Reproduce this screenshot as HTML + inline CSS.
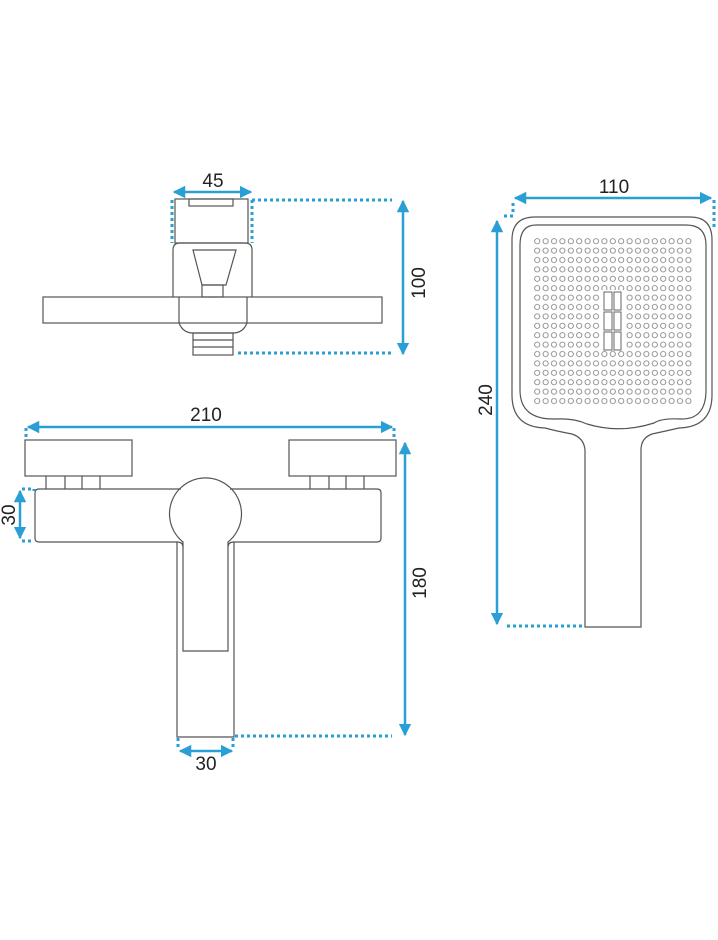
<!DOCTYPE html>
<html><head><style>html,body{margin:0;padding:0;background:#fff}svg{display:block}</style></head><body>
<svg width="718" height="940" viewBox="0 0 718 940" xmlns="http://www.w3.org/2000/svg" font-family="Liberation Sans, sans-serif">
<defs>
<marker id="a" viewBox="0 0 10 10" refX="9" refY="5" markerWidth="5" markerHeight="5" orient="auto-start-reverse"><path d="M0,0L10,5L0,10z" fill="#2a9fd6"/></marker>
<pattern id="dots" x="533" y="236.5" width="8.4" height="9.4" patternUnits="userSpaceOnUse"><circle cx="4.2" cy="4.7" r="2.6" fill="none" stroke="#777" stroke-width="0.8"/></pattern>
</defs>
<g fill="none" stroke="#555" stroke-width="1.2">
<rect x="175" y="199" width="73" height="44"/>
<rect x="189" y="199" width="44" height="7"/>
<path d="M173,297V250Q173,243 180,243H245Q252,243 252,250V297"/>
<path d="M193,250H236L226,285H202Z"/>
<rect x="202" y="285" width="21" height="12"/>
<rect x="43" y="297" width="339" height="26"/>
<path d="M179,297V323Q183,333 193,333H233Q243,333 247,323V297"/>
<rect x="193" y="333" width="40" height="22"/>
<path d="M193,340H233M193,347H233"/>
<rect x="25" y="440" width="107" height="36"/>
<rect x="289" y="440" width="107" height="36"/>
<path d="M46,476V489M65,476V489M82,476V489M100,476V489M310,476V489M329,476V489M346,476V489M364,476V489"/>
<path d="M181,489H39Q35,489 35,493V538Q35,542 39,542H177V737H234V542H377Q381,542 381,538V493Q381,489 377,489H230"/>
<path d="M183,542A36,36 0 1 1 228,542V651H183Z"/>
<path d="M177,542Q183,542 183,547M234,542Q228,542 228,547"/>
<path d="M585,627V450Q584,438 572,434Q556,431 545,428Q512,427 512,395V240Q512,217 535,217H690Q712,217 712,240V395Q712,427 679,428Q666,431 652,434Q641,438 641,450V627Z"/>
<path d="M536,225H686Q706,225 706,245V390Q706,420 680,419Q662,418 654,423Q620,434 587,424Q574,418 556,419Q520,420 520,390V245Q520,225 536,225Z"/>
</g>
<rect x="533" y="236.5" width="159" height="169" fill="url(#dots)"/>
<rect x="600" y="290" width="25" height="60" fill="#fff"/>
<g fill="none" stroke="#666" stroke-width="1">
<rect x="604" y="292" width="8" height="18"/><rect x="614" y="292" width="7" height="18"/>
<rect x="604" y="312" width="8" height="18"/><rect x="614" y="312" width="7" height="18"/>
<rect x="604" y="332" width="8" height="18"/><rect x="614" y="332" width="7" height="18"/>
</g>
<g stroke="#2a9fd6" stroke-width="2.5" fill="none">
<line x1="174" y1="192" x2="251" y2="192" marker-start="url(#a)" marker-end="url(#a)"/>
<line x1="403" y1="201" x2="403" y2="354" marker-start="url(#a)" marker-end="url(#a)"/>
<line x1="28" y1="427" x2="392" y2="427" marker-start="url(#a)" marker-end="url(#a)"/>
<line x1="20" y1="491" x2="20" y2="538" marker-start="url(#a)" marker-end="url(#a)"/>
<line x1="405" y1="443" x2="405" y2="735" marker-start="url(#a)" marker-end="url(#a)"/>
<line x1="180" y1="751" x2="232" y2="751" marker-start="url(#a)" marker-end="url(#a)"/>
<line x1="515" y1="198" x2="711" y2="198" marker-start="url(#a)" marker-end="url(#a)"/>
<line x1="497" y1="221" x2="497" y2="624" marker-start="url(#a)" marker-end="url(#a)"/>
</g>
<g stroke="#2a9fd6" stroke-width="3" stroke-dasharray="3,3" fill="none">
<path d="M172,200V243M252,200V243M252,200H392M238,353H392"/>
<path d="M26,428V438M394,428V438M22,489H34M22,541H34M34,489V491M235,736H392M178,738V748M233,738V748"/>
<path d="M513,203V213M504,216H514M714,200V228M507,626H583"/>
</g>
<g fill="#222" font-size="19" text-anchor="middle">
<text x="213" y="187">45</text>
<text x="206" y="421">210</text>
<text x="206" y="770">30</text>
<text x="614" y="193">110</text>
<text transform="translate(425,283) rotate(-90)">100</text>
<text transform="translate(426,583) rotate(-90)">180</text>
<text transform="translate(15,515) rotate(-90)">30</text>
<text transform="translate(492,400) rotate(-90)">240</text>
</g>
</svg>
</body></html>
